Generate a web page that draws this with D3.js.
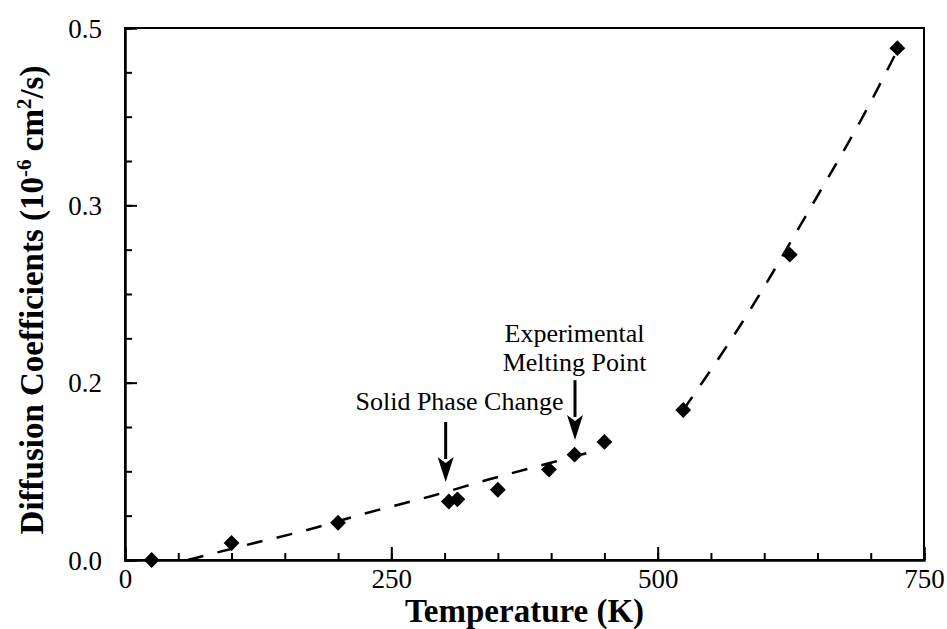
<!DOCTYPE html>
<html>
<head>
<meta charset="utf-8">
<script src="https://cdn.jsdelivr.net/npm/d3@7"></script>
<style>
  html, body { margin: 0; padding: 0; background: #fff; }
  svg { display: block; }
  text { font-family: "Liberation Serif", "Times New Roman", serif; fill: #000; }
</style>
</head>
<body>
<svg id="chart" width="947" height="629"></svg>
<script>
// ---- data ----
const temperatures = [25, 100, 200, 304, 312, 350, 398, 422, 450, 524, 624, 725];
const diffusion    = [0.0, 0.016, 0.035, 0.055, 0.057, 0.066, 0.085, 0.099, 0.111, 0.141, 0.287, 0.481];

const fitSolidT = [59, 114, 171, 227, 288, 343, 399, 434];
const fitSolidD = [0.0, 0.0141, 0.0282, 0.0442, 0.0602, 0.0761, 0.0912, 0.1006];

const fitLiquidT = [524, 579, 645, 696, 725];
const fitLiquidD = [0.141, 0.2227, 0.3336, 0.423, 0.479];

const xMajorTicks = [0, 250, 500, 750];
const xTickLabels = ["0", "250", "500", "750"];
const xMinorTicks = [0, 50, 100, 150, 200, 250, 300, 350, 400, 450, 500, 550, 600, 650, 700, 750];

const yMajorTicks = [0, 1/6, 2/6, 0.5];
const yTickLabels = ["0.0", "0.2", "0.3", "0.5"];
const yMinorTicks = d3.range(0, 13).map(i => i * 0.5 / 12);

const annotationText = ["Solid Phase Change", "Experimental", "Melting Point"];
const annotationTextT = [314, 422, 422];
const annotationTextD = [0.141, 0.2049, 0.1776];
const arrowT = [301, 422.4];
const arrowFromD = [0.1297, 0.169];
const arrowToD = [0.0733, 0.1128];

// ---- layout ----
const svg = d3.select("#chart");
const mLeft = 125, mRight = 924, mTop = 28, mBottom = 560;

const x = d3.scaleLinear().domain([0, 750]).range([mLeft, mRight]);
const y = d3.scaleLinear().domain([0, 0.5]).range([mBottom, mTop]);

// frame
svg.append("rect")
  .attr("x", x(0)).attr("y", y(0.5))
  .attr("width", x(750) - x(0)).attr("height", y(0) - y(0.5))
  .attr("fill", "none").attr("stroke", "#000").attr("stroke-width", 2);

// x axis minor
svg.append("g").attr("transform", `translate(0,${mBottom})`)
  .call(d3.axisBottom(x).tickValues(xMinorTicks).tickSize(-7).tickFormat(""));
// x axis major
const gxMajor = svg.append("g").attr("transform", `translate(0,${mBottom})`)
  .call(d3.axisBottom(x).tickValues(xMajorTicks).tickSize(-13)
    .tickFormat((d, i) => xTickLabels[i]));
gxMajor.selectAll(".tick text")
  .attr("y", 28).attr("dy", null)
  .style("font-size", "27px").style("font-family", "Liberation Serif, serif");

// y axis minor
svg.append("g").attr("transform", `translate(${mLeft},0)`)
  .call(d3.axisLeft(y).tickValues(yMinorTicks).tickSize(-7).tickFormat(""));
// y axis major
const gyMajor = svg.append("g").attr("transform", `translate(${mLeft},0)`)
  .call(d3.axisLeft(y).tickValues(yMajorTicks).tickSize(-12)
    .tickFormat((d, i) => yTickLabels[i]));
gyMajor.selectAll(".tick text")
  .attr("x", -23).attr("dy", "0.34em")
  .style("font-size", "27px").style("font-family", "Liberation Serif, serif");

svg.selectAll(".domain").attr("stroke-width", 2);
svg.selectAll(".tick line").attr("stroke-width", 2);

// fitted dashed curves
const line = d3.line().x(d => x(d[0])).y(d => y(d[1])).curve(d3.curveMonotoneX);
const fitSolid = fitSolidT.map((t, i) => [t, fitSolidD[i]]);
const fitLiquid = fitLiquidT.map((t, i) => [t, fitLiquidD[i]]);
[fitSolid, fitLiquid].forEach(p => {
  svg.append("path").datum(p)
    .attr("d", line)
    .attr("fill", "none").attr("stroke", "#000")
    .attr("stroke-width", 2.5).attr("stroke-dasharray", "16,14.5");
});

// diamond markers
const pts = temperatures.map((t, i) => [t, diffusion[i]]);
const sym = d3.symbol(d3.symbolSquare, 125);
svg.append("g").selectAll("path").data(pts).join("path")
  .attr("d", sym)
  .attr("transform", d => `translate(${x(d[0])},${y(d[1])}) rotate(45)`)
  .attr("fill", "#000");

// annotations
annotationText.forEach((txt, i) => {
  svg.append("text")
    .attr("x", x(annotationTextT[i])).attr("y", y(annotationTextD[i]))
    .attr("text-anchor", "middle")
    .style("font-size", "26px")
    .text(txt);
});
arrowT.forEach((t, i) => {
  const ax = x(t), y0 = y(arrowFromD[i]), y1 = y(arrowToD[i]);
  const headLen = 25, headW = 8;
  svg.append("line")
    .attr("x1", ax).attr("x2", ax).attr("y1", y0).attr("y2", y1 - headLen + 2)
    .attr("stroke", "#000").attr("stroke-width", 3);
  svg.append("path")
    .attr("d", `M${ax - headW},${y1 - headLen} L${ax},${y1 - headLen + 6} L${ax + headW},${y1 - headLen} L${ax},${y1} Z`)
    .attr("fill", "#000");
});

// axis titles
svg.append("text")
  .attr("x", (mLeft + mRight) / 2).attr("y", 622)
  .attr("text-anchor", "middle")
  .style("font-size", "33px").style("font-weight", "bold")
  .text("Temperature (K)");

const yt = svg.append("text")
  .attr("transform", `translate(43,${(mTop + mBottom) / 2 + 6}) rotate(-90)`)
  .attr("text-anchor", "middle")
  .style("font-size", "33px").style("font-weight", "bold");
yt.append("tspan").text("Diffusion Coefficients (10");
yt.append("tspan").attr("dy", -12).style("font-size", "21px").text("-6");
yt.append("tspan").attr("dy", 12).text(" cm");
yt.append("tspan").attr("dy", -12).style("font-size", "21px").text("2");
yt.append("tspan").attr("dy", 12).text("/s)");
</script>
</body>
</html>
